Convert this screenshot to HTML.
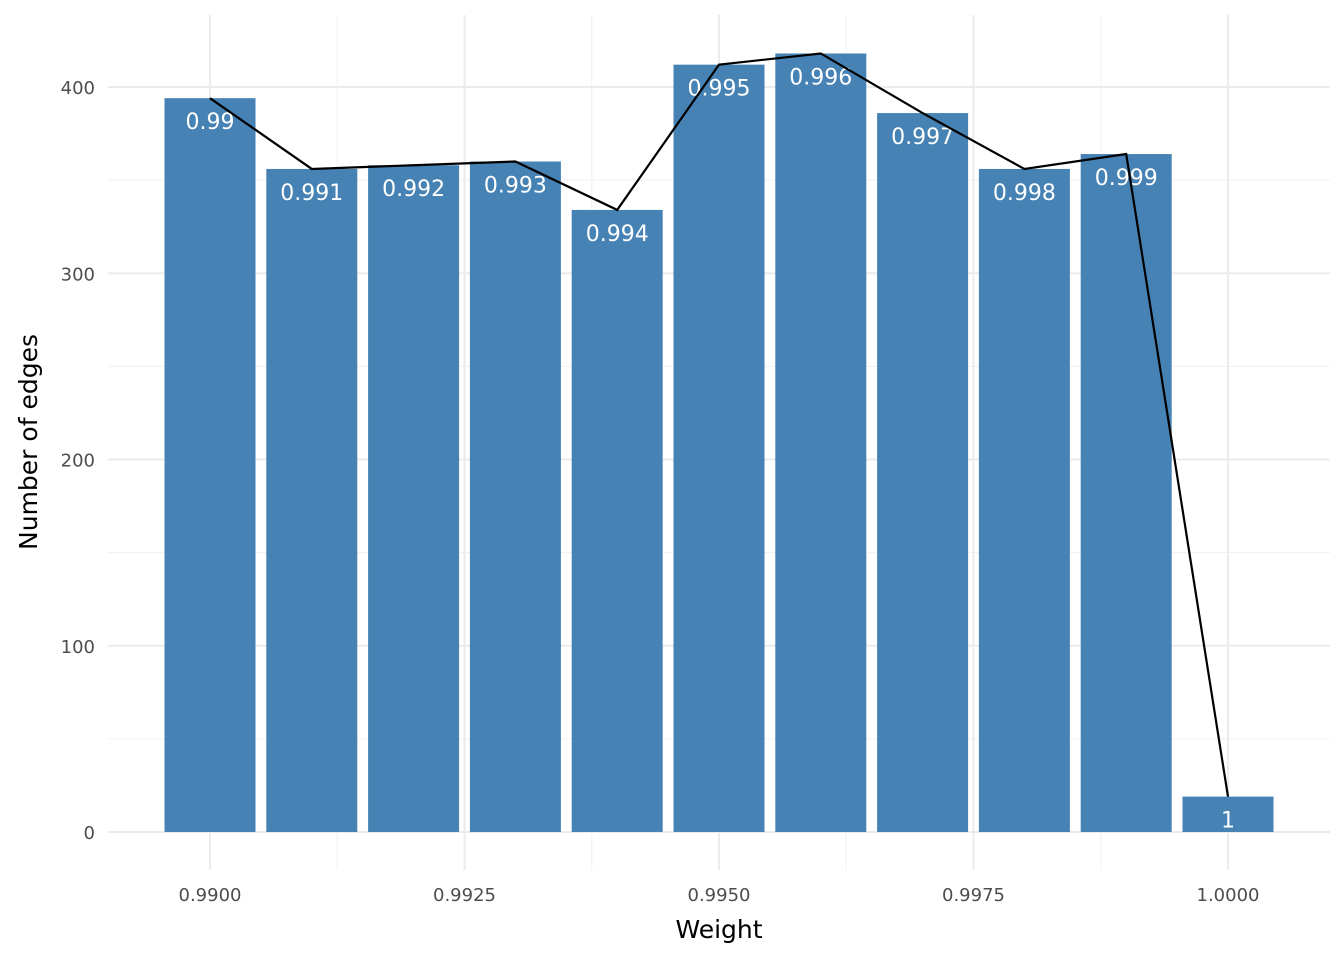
<!DOCTYPE html>
<html><head><meta charset="utf-8"><style>
body{margin:0;background:#fff;}
svg text{font-family:"DejaVu Sans","Liberation Sans",sans-serif;}
</style></head><body>
<svg id="chart" width="1344" height="960" xmlns="http://www.w3.org/2000/svg"></svg>
<script>
const categories=[0.990,0.991,0.992,0.993,0.994,0.995,0.996,0.997,0.998,0.999,1.000];
const labels=["0.99","0.991","0.992","0.993","0.994","0.995","0.996","0.997","0.998","0.999","1"];
const counts=[394,356,358,360,334,412,418,386,356,364,19];
const xTicks=[0.9900,0.9925,0.9950,0.9975,1.0000];
const xTickLabels=["0.9900","0.9925","0.9950","0.9975","1.0000"];
const yTicks=[0,100,200,300,400];

const svg=document.getElementById('chart');
const NS='http://www.w3.org/2000/svg';
const X=v=>210+(v-0.99)*101800;
const Y=v=>832-v*1.8625;
const L=108,R=1330,T=15,B=870;
function mk(tag,attrs,parent){const e=document.createElementNS(NS,tag);for(const k in attrs)e.setAttribute(k,attrs[k]);(parent||svg).appendChild(e);return e;}

for(let i=0;i<xTicks.length-1;i++){const v=(xTicks[i]+xTicks[i+1])/2;
 const g=mk('line',{x1:X(v),x2:X(v),y1:T,y2:B,stroke:'#f0f0f0','stroke-width':1});
 
 }
for(let i=0;i<yTicks.length;i++){const v=yTicks[i]+50;
 const g=mk('line',{x1:L,x2:R,y1:Y(v),y2:Y(v),stroke:'#f0f0f0','stroke-width':1});
 
 }
xTicks.forEach((v,i)=>{
 const g=mk('line',{x1:X(v),x2:X(v),y1:T,y2:B,stroke:'#ebebeb','stroke-width':2});
 
 
 const t=mk('text',{x:X(v),y:901,'text-anchor':'middle','font-size':18,fill:'#4d4d4d'});
 t.textContent=xTickLabels[i];
 
 
});
yTicks.forEach(v=>{
 const g=mk('line',{x1:L,x2:R,y1:Y(v),y2:Y(v),stroke:'#ebebeb','stroke-width':2});
 
 
 const t=mk('text',{x:95,y:Y(v)+7,'text-anchor':'end','font-size':18,fill:'#4d4d4d'});
 t.textContent=String(v);
 
 
});
const bw=91;
categories.forEach((c,i)=>{
 const b=mk('rect',{x:X(c)-bw/2,y:Y(counts[i]),width:bw,height:Y(0)-Y(counts[i]),fill:'#4682b4'});
 
 
});
categories.forEach((c,i)=>{
 const t=mk('text',{x:X(c),y:Y(counts[i])+31,'text-anchor':'middle','font-size':22,fill:'#ffffff'});
 t.textContent=labels[i];
 
 
});
const pts=categories.map((c,i)=>X(c)+','+Y(counts[i])).join(' ');
const pl=mk('polyline',{points:pts,fill:'none',stroke:'#000','stroke-width':2.2});


const xt=mk('text',{x:719,y:938,'text-anchor':'middle','font-size':25,fill:'#000'});
xt.textContent='Weight';


const yt=mk('text',{x:0,y:0,'text-anchor':'middle','font-size':25,fill:'#000',transform:'translate(37,442) rotate(-90)'});
yt.textContent='Number of edges';


</script>
</body></html>
